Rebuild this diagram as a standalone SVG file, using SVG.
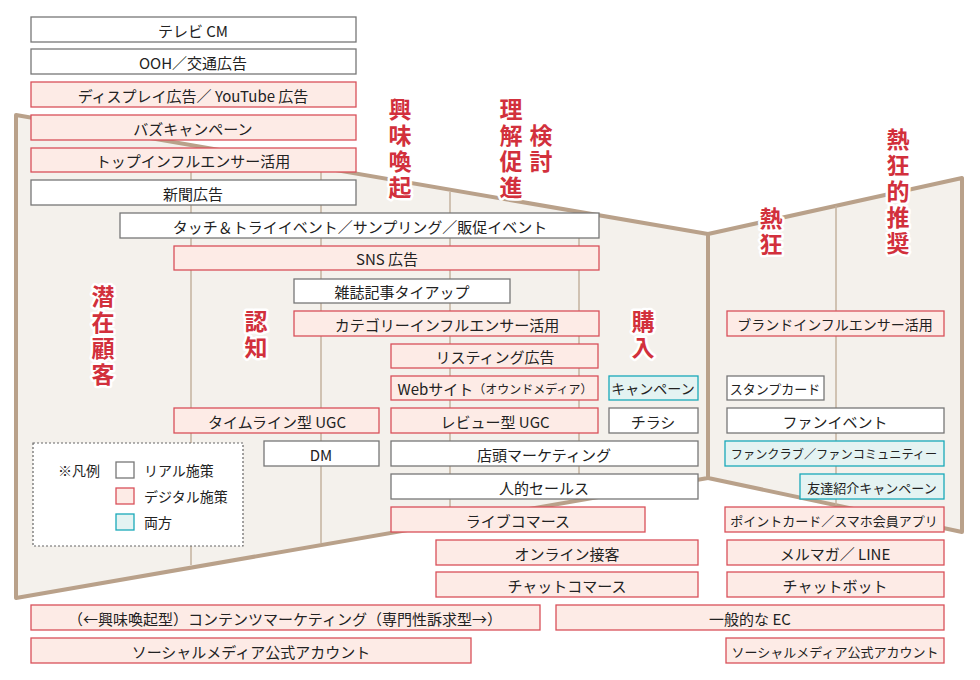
<svg xmlns="http://www.w3.org/2000/svg" width="980" height="680" viewBox="0 0 980 680">
<style>
text{font-family:"Noto Sans CJK JP","Noto Sans",sans-serif;font-size:15px;fill:#222;text-anchor:middle;dominant-baseline:central}
.w{fill:#fff;stroke:#777;stroke-width:1.3}
.p{fill:#fdebe6;stroke:#d9505a;stroke-width:1.3}
.c{fill:#e4f3f2;stroke:#19a9b9;stroke-width:1.3}
.s text{font-size:14px}
.t{font-size:13px}
text.u{font-size:12.2px}
text.r{fill:#d2303c;font-size:23px;font-weight:bold;stroke:#fff;stroke-width:5;paint-order:stroke;stroke-linejoin:round;writing-mode:vertical-rl;text-orientation:upright;text-anchor:start;letter-spacing:3px}
.v{stroke:#c4b29f;stroke-width:1.5}
</style>
<g id="funnel">
<polygon points="16,115 708,234 708,478 16,598" fill="#f4f1ec" stroke="#b9a18a" stroke-width="4" stroke-linejoin="round"/>
<polygon points="708,234 962,178 962,532 708,478" fill="#f4f1ec" stroke="#b9a18a" stroke-width="4" stroke-linejoin="round"/>
<line class="v" x1="191" y1="148" x2="191" y2="565"/>
<line class="v" x1="321" y1="170" x2="321" y2="543"/>
<line class="v" x1="450" y1="192" x2="450" y2="521"/>
<line class="v" x1="579" y1="214" x2="579" y2="499"/>
<line class="v" x1="836" y1="206" x2="836" y2="505"/>
</g>
<g id="stages">
<text class="r" x="400" y="98">興味喚起</text>
<text class="r" x="511" y="98">理解促進</text>
<text class="r" x="541" y="124">検討</text>
<text class="r" x="898" y="128">熱狂的推奨</text>
<text class="r" x="771" y="207">熱狂</text>
<text class="r" x="103" y="285">潜在顧客</text>
<text class="r" x="256" y="310">認知</text>
<text class="r" x="643" y="310">購入</text>
</g>
<g id="n1"><rect class="w" x="31" y="17" width="325" height="25"/><text x="193" y="30">テレビ CM</text></g>
<g id="n2"><rect class="w" x="31" y="49" width="325" height="25"/><text x="193" y="62">OOH／交通広告</text></g>
<g id="n3"><rect class="p" x="31" y="82" width="325" height="25"/><text x="193" y="95">ディスプレイ広告／ YouTube 広告</text></g>
<g id="n4"><rect class="p" x="31" y="115" width="325" height="25"/><text x="193" y="128">バズキャンペーン</text></g>
<g id="n5"><rect class="p" x="31" y="148" width="325" height="24"/><text x="193" y="160">トップインフルエンサー活用</text></g>
<g id="n6"><rect class="w" x="31" y="180" width="325" height="25"/><text x="193" y="193">新聞広告</text></g>
<g id="n7"><rect class="w" x="120" y="213" width="479" height="25"/><text x="360" y="226">タッチ＆トライイベント／サンプリング／販促イベント</text></g>
<g id="n8"><rect class="p" x="174" y="246" width="425" height="24"/><text x="387" y="258">SNS 広告</text></g>
<g id="n9"><rect class="w" x="294" y="279" width="216" height="24"/><text x="402" y="291">雑誌記事タイアップ</text></g>
<g id="n10"><rect class="p" x="294" y="311" width="305" height="25"/><text x="447" y="324">カテゴリーインフルエンサー活用</text></g>
<g id="n11"><rect class="p" x="391" y="344" width="207" height="24"/><text x="495" y="356">リスティング広告</text></g>
<g id="n12"><rect class="p" x="391" y="376" width="207" height="24"/><text x="495" y="388">Webサイト<tspan font-size="12">（オウンドメディア）</tspan></text></g>
<g id="n13" class="s"><rect class="c" x="609" y="376" width="89" height="24"/><text x="653" y="388">キャンペーン</text></g>
<g id="n14"><rect class="p" x="174" y="408" width="205" height="25"/><text x="277" y="421">タイムライン型 UGC</text></g>
<g id="n15"><rect class="p" x="391" y="408" width="207" height="25"/><text x="495" y="421">レビュー型 UGC</text></g>
<g id="n16"><rect class="w" x="609" y="408" width="89" height="25"/><text x="653" y="421">チラシ</text></g>
<g id="n17"><rect class="w" x="264" y="441" width="115" height="25"/><text x="321" y="454">DM</text></g>
<g id="n18"><rect class="w" x="391" y="441" width="307" height="25"/><text x="544" y="454">店頭マーケティング</text></g>
<g id="n19"><rect class="w" x="391" y="474" width="307" height="25"/><text x="544" y="487">人的セールス</text></g>
<g id="n20"><rect class="p" x="391" y="507" width="254" height="25"/><text x="518" y="520">ライブコマース</text></g>
<g id="n21"><rect class="p" x="436" y="540" width="262" height="25"/><text x="567" y="553">オンライン接客</text></g>
<g id="n22"><rect class="p" x="436" y="572" width="262" height="25"/><text x="567" y="585">チャットコマース</text></g>
<g id="n23"><rect class="p" x="31" y="605" width="509" height="25"/><text x="285" y="618">（←興味喚起型）コンテンツマーケティング（専門性訴求型→）</text></g>
<g id="n24"><rect class="p" x="31" y="638" width="440" height="25"/><text x="251" y="651">ソーシャルメディア公式アカウント</text></g>
<g id="n25"><rect class="p" x="556" y="605" width="388" height="25"/><text x="750" y="618">一般的な EC</text></g>
<g id="n26"><rect class="p" x="726" y="638" width="218" height="25"/><text class="t" x="835" y="651">ソーシャルメディア公式アカウント</text></g>
<g id="n27" class="s"><rect class="p" x="727" y="311" width="217" height="25"/><text x="835" y="324">ブランドインフルエンサー活用</text></g>
<g id="n28"><rect class="w" x="727" y="376" width="97" height="24"/><text class="t" x="775" y="388">スタンプカード</text></g>
<g id="n29"><rect class="w" x="727" y="408" width="217" height="25"/><text x="835" y="421">ファンイベント</text></g>
<g id="n30"><rect class="c" x="725" y="441" width="219" height="25"/><text class="u" x="834" y="454">ファンクラブ／ファンコミュニティー</text></g>
<g id="n31"><rect class="c" x="800" y="474" width="144" height="25"/><text class="t" x="872" y="487">友達紹介キャンペーン</text></g>
<g id="n32"><rect class="p" x="725" y="507" width="219" height="25"/><text class="t" x="834" y="520">ポイントカード／スマホ会員アプリ</text></g>
<g id="n33"><rect class="p" x="727" y="540" width="217" height="25"/><text x="835" y="553">メルマガ／ LINE</text></g>
<g id="n34"><rect class="p" x="727" y="572" width="217" height="25"/><text x="835" y="585">チャットボット</text></g>
<g id="legend" class="s">
<rect x="33" y="443" width="210" height="103" fill="#fff" stroke="#666" stroke-width="1.2" stroke-dasharray="2,2"/>
<text x="79" y="470">※凡例</text>
<rect class="w" x="116" y="462" width="18" height="16"/><text x="144" y="470" style="text-anchor:start">リアル施策</text>
<rect class="p" x="116" y="488" width="18" height="16"/><text x="144" y="496" style="text-anchor:start">デジタル施策</text>
<rect class="c" x="116" y="514" width="18" height="16"/><text x="144" y="522" style="text-anchor:start">両方</text>
</g>
<g id="connectors"/>
</svg>
